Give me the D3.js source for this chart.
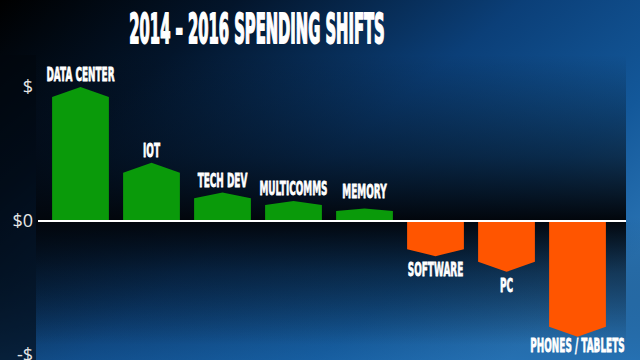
<!DOCTYPE html>
<html>
<head>
<meta charset="utf-8">
<script src="https://cdn.jsdelivr.net/npm/d3@7/dist/d3.min.js"></script>
<style>
  html, body { margin: 0; padding: 0; background: #000; }
  svg { display: block; }
</style>
</head>
<body>
<script>
// ---- data ----
const categories = ["DATA CENTER", "IOT", "TECH DEV", "MULTICOMMS", "MEMORY", "SOFTWARE", "PC", "PHONES / TABLETS"];
const values = [9.25, 3.6, 1.7, 1.2, 0.75, -2.1, -3.05, -7.9];
const tickValues = [10, 0, -10];
const tickLabels = ["$", "$0", "-$"];
const title = "2014 – 2016 SPENDING SHIFTS";

const W = 640, H = 360;
const svg = d3.select("body").append("svg").attr("width", W).attr("height", H);
const defs = svg.append("defs");

// background gradient
const bg = defs.append("linearGradient").attr("id", "bg")
  .attr("x1", "0%").attr("y1", "0%").attr("x2", "100%").attr("y2", "70%");
[["0%", "#000000"], ["25%", "#03152b"], ["55%", "#0b3f78"], ["80%", "#13589a"], ["100%", "#2a74b4"]]
  .forEach(([o, c]) => bg.append("stop").attr("offset", o).attr("stop-color", c));

const bgv = defs.append("linearGradient").attr("id", "bgv")
  .attr("x1", "0").attr("y1", "0").attr("x2", "0").attr("y2", "1");
[["0%", "#000", 0], ["60%", "#000", 0], ["100%", "#1e6aae", 0.35]]
  .forEach(([o, c, a]) => bgv.append("stop").attr("offset", o).attr("stop-color", c).attr("stop-opacity", a));

const panel = defs.append("linearGradient").attr("id", "panel")
  .attr("gradientUnits", "userSpaceOnUse")
  .attr("x1", 0).attr("y1", 55).attr("x2", 0).attr("y2", 345);
[[0, 0], [0.35, 0.55], [0.57, 1], [0.75, 0.5], [1, 0]]
  .forEach(([o, a]) => panel.append("stop").attr("offset", o).attr("stop-color", "#02060c").attr("stop-opacity", a));

svg.append("rect").attr("width", W).attr("height", H).attr("fill", "url(#bg)");
svg.append("rect").attr("width", W).attr("height", H).attr("fill", "url(#bgv)");
svg.append("rect").attr("x", 36).attr("y", 55).attr("width", 590).attr("height", 305).attr("fill", "url(#panel)");
svg.append("rect").attr("x", 0).attr("y", 55).attr("width", 36).attr("height", 305).attr("fill", "#02070e").attr("opacity", 0.6);

// scales
const x = d3.scaleBand().domain(categories).range([45, 613]).paddingInner(0.2).paddingOuter(0.1);
const y = d3.scaleLinear().domain([-10, 10]).range([355, 87]);
const y0 = y(0);

const labelFont = "'DejaVu Sans', sans-serif";

// bars
function tipY(i) {
  const v = values[i], yv = y(v);
  const p = Math.min(10, 0.25 * Math.abs(yv - y0));
  return v >= 0 ? yv - p : yv + p;
}
function barPath(d, i) {
  const v = values[i];
  const x0 = x(d), x1 = x0 + x.bandwidth(), xm = (x0 + x1) / 2;
  const yv = y(v);
  return `M${x0},${y0}L${x0},${yv}L${xm},${tipY(i)}L${x1},${yv}L${x1},${y0}Z`;
}
svg.append("g").selectAll("path").data(categories).join("path")
  .attr("d", barPath)
  .attr("fill", (d, i) => values[i] >= 0 ? "#0a9a0a" : "#ff5500");

// zero line
svg.append("line").attr("x1", 38).attr("x2", 626).attr("y1", y0).attr("y2", y0)
  .attr("stroke", "#ffffff").attr("stroke-width", 2);

// bar labels
svg.append("g").selectAll("text").data(categories).join("text")
  .attr("transform", (d, i) => {
    const cx = x(d) + x.bandwidth() / 2;
    const by = values[i] >= 0 ? Math.min(tipY(i) - 6, y0 - 23) : Math.min(tipY(i) + 20, 352);
    return `translate(${cx},${by}) scale(0.47,1)`;
  })
  .attr("text-anchor", "middle")
  .attr("font-family", labelFont)
  .attr("font-weight", "bold")
  .attr("font-size", 19)
  .attr("fill", "#ffffff")
  .attr("stroke", "#ffffff")
  .attr("stroke-width", 0.8)
  .text(d => d);

// y axis labels
svg.append("g").selectAll("text").data(tickValues).join("text")
  .attr("x", 33).attr("y", d => y(d))
  .attr("dy", "0.36em")
  .attr("text-anchor", "end")
  .attr("font-family", "'Open Sans', 'Noto Sans', sans-serif")
  .attr("font-size", 18)
  .attr("fill", "#e6e6e6")
  .text((d, i) => tickLabels[i]);

// title
svg.append("text")
  .attr("transform", "translate(257,43) scale(0.36,1)")
  .attr("text-anchor", "middle")
  .attr("font-family", labelFont)
  .attr("font-weight", "bold")
  .attr("font-size", 41)
  .attr("fill", "#ffffff")
  .attr("stroke", "#ffffff")
  .attr("stroke-width", 2)
  .text(title);
</script>
</body>
</html>
